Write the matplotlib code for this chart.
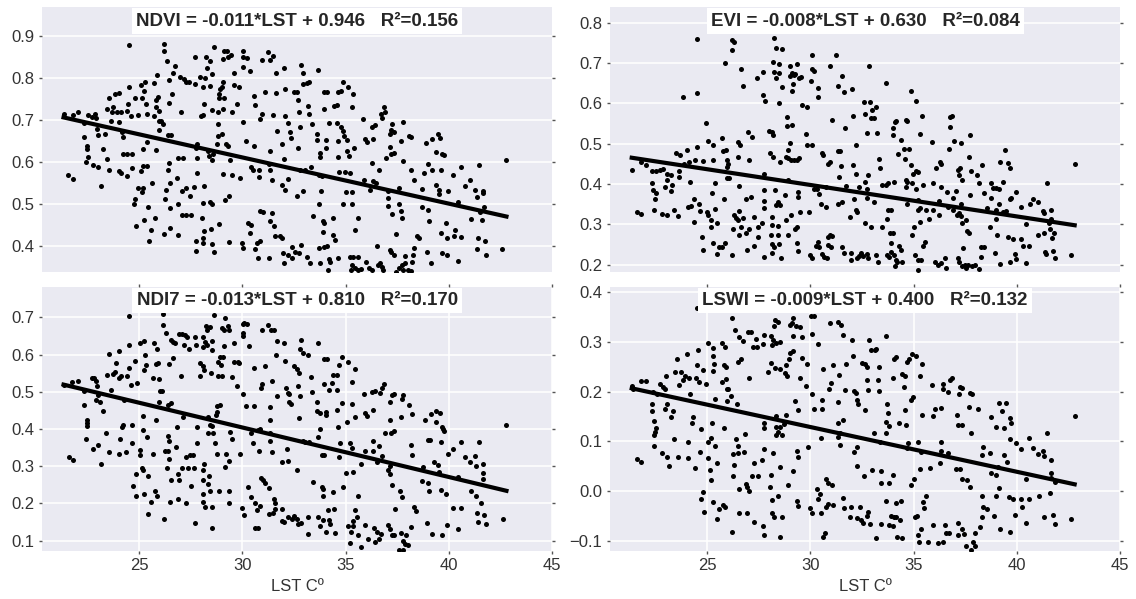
import numpy as np
import matplotlib
matplotlib.use('Agg')
import matplotlib.pyplot as plt

plt.rcParams['font.family'] = ['Liberation Sans', 'DejaVu Sans']

# (LST, index) points
ndvi_pts = [
    (21.34, .715), (21.79, .712), (22.03, .719), (21.58, .570), (21.79, .559),
    (22.34, .694), (22.55, .712), (22.71, .708), (22.87, .715), (22.92, .706),
    (22.35, .660), (22.50, .638), (22.47, .630), (22.52, .613), (22.42, .601),
    (22.79, .593), (23.03, .588), (23.16, .544), (22.95, .678), (23.00, .664),
    (23.35, .666), (23.24, .630), (23.44, .608), (23.56, .582), (23.44, .727),
    (23.56, .752), (23.73, .730), (23.84, .763), (24.03, .765), (23.71, .720),
    (23.92, .720), (24.11, .718), (24.05, .696), (23.65, .698), (24.16, .672),
    (24.24, .660), (24.03, .578), (24.11, .573), (24.52, .879), (24.52, .778),
    (24.45, .738), (24.61, .710), (24.81, .752), (25.08, .783), (24.94, .712),
    (24.24, .620), (24.43, .620), (24.64, .620), (24.40, .566), (24.64, .585),
    (24.73, .501), (24.81, .512), (24.86, .448), (24.97, .538), (25.18, .538),
    (25.13, .528), (25.08, .578), (25.21, .590), (25.26, .462), (25.29, .790),
    (25.26, .770), (25.34, .738), (25.37, .715), (25.21, .630), (25.40, .648),
    (25.39, .590), (25.45, .494), (25.58, .439), (25.48, .411), (25.64, .550),
    (25.72, .787), (25.85, .806), (25.81, .748), (25.90, .754), (25.71, .710),
    (25.97, .722), (25.98, .698), (25.81, .628), (25.77, .467), (25.97, .676),
    (26.19, .880), (26.19, .864), (26.34, .841), (26.14, .690), (26.45, .740),
    (26.47, .796), (26.63, .812), (26.74, .828), (26.58, .763), (26.42, .664),
    (26.55, .664), (26.47, .597), (26.39, .582), (26.50, .550), (26.29, .534),
    (26.26, .512), (26.52, .490), (26.52, .443), (26.21, .428), (26.82, .562),
    (26.87, .501), (26.87, .609), (26.90, .427), (26.98, .802), (27.03, .720),
    (27.19, .798), (27.26, .790), (27.42, .790), (27.14, .610), (27.06, .530),
    (27.26, .538), (27.47, .518), (27.06, .475), (27.27, .475), (27.52, .475),
    (27.71, .849), (27.71, .786), (27.79, .642), (27.81, .610), (27.66, .541),
    (27.79, .574), (27.74, .411), (27.74, .388), (27.95, .803), (28.24, .849),
    (28.27, .825), (28.44, .840), (28.19, .800), (28.11, .778), (28.44, .780),
    (28.14, .738), (28.00, .710), (28.11, .712), (28.63, .875), (28.55, .810),
    (28.52, .723), (28.35, .626), (28.52, .606), (28.40, .614), (28.60, .618),
    (28.16, .542), (28.08, .502), (28.44, .506), (28.55, .499), (28.06, .467),
    (28.16, .436), (28.11, .420), (28.47, .440), (28.11, .408), (28.55, .404),
    (28.63, .387), (28.76, .642), (28.84, .691), (28.81, .662), (29.00, .666),
    (28.89, .763), (28.89, .752), (28.84, .718), (29.13, .865), (29.27, .864),
    (29.08, .845), (29.32, .851), (29.45, .855), (29.05, .790), (29.00, .778),
    (29.13, .752), (29.05, .726), (28.92, .774), (29.21, .642), (29.32, .638),
    (29.40, .606), (29.05, .572), (29.50, .568), (29.16, .510), (29.35, .520),
    (28.89, .453), (29.37, .409), (29.61, .813), (29.61, .784), (29.84, .779),
    (29.76, .738), (29.51, .720), (29.89, .562), (30.05, .695), (29.97, .408),
    (30.05, .865), (30.02, .849), (30.21, .848), (30.02, .827), (30.37, .817),
    (30.16, .650), (30.56, .638), (30.40, .589), (30.53, .582), (30.81, .582),
    (30.81, .564), (30.29, .455), (30.42, .451), (30.37, .431), (30.05, .396),
    (30.69, .407), (30.85, .412), (30.61, .393), (30.58, .758), (30.61, .736),
    (30.97, .714), (30.85, .702), (30.77, .371), (30.85, .483), (30.98, .481),
    (30.97, .843), (31.23, .861), (31.34, .843), (31.50, .853), (31.10, .766),
    (31.47, .711), (31.34, .626), (31.31, .596), (31.34, .581), (31.45, .558),
    (31.42, .479), (31.35, .459), (31.53, .447), (31.58, .423), (31.90, .419),
    (31.82, .423), (31.31, .371), (31.63, .813), (31.63, .764), (31.66, .674),
    (31.93, .642), (32.02, .608), (31.93, .546), (32.06, .534), (31.95, .383),
    (32.02, .359), (32.03, .825), (32.06, .775), (32.06, .710), (32.23, .692),
    (32.31, .672), (32.35, .658), (32.19, .560), (32.23, .379), (32.39, .371),
    (32.42, .397), (32.63, .518), (32.50, .766), (32.63, .767), (32.71, .747),
    (32.74, .720), (32.79, .684), (32.68, .634), (32.79, .582), (32.95, .532),
    (32.74, .384), (32.84, .403), (32.55, .387), (32.84, .832), (32.92, .813),
    (32.95, .786), (33.11, .787), (33.24, .790), (33.03, .581), (33.15, .375),
    (33.27, .359), (33.19, .734), (33.24, .715), (33.35, .691), (33.32, .589),
    (33.44, .471), (33.60, .666), (33.63, .652), (33.76, .621), (33.76, .613),
    (33.68, .820), (33.97, .767), (34.08, .767), (33.97, .727), (33.73, .570),
    (33.84, .566), (33.81, .530), (33.73, .501), (33.89, .459), (33.97, .456),
    (33.92, .433), (33.73, .395), (33.97, .397), (34.08, .400), (33.76, .359),
    (34.13, .343), (34.19, .369), (34.24, .363), (34.05, .652), (34.05, .634),
    (34.21, .694), (34.44, .734), (34.60, .735), (34.56, .694), (34.64, .767),
    (34.77, .770), (34.89, .790), (35.13, .778), (35.37, .763), (35.32, .731),
    (34.64, .650), (34.61, .613), (34.76, .684), (34.89, .674), (34.92, .662),
    (35.08, .652), (35.05, .626), (35.18, .614), (34.69, .577), (34.97, .576),
    (35.21, .574), (34.37, .468), (34.40, .427), (34.48, .415), (34.64, .372),
    (34.89, .501), (35.02, .528), (35.32, .529), (35.32, .501), (35.40, .634),
    (35.61, .468), (35.45, .439), (35.21, .375), (35.37, .375), (35.58, .375),
    (35.29, .355), (35.45, .349), (35.26, .343), (35.58, .343), (35.85, .702),
    (35.93, .654), (36.06, .648), (35.90, .557), (36.18, .534), (36.26, .598),
    (36.34, .556), (36.26, .684), (36.42, .688), (36.31, .654), (35.74, .345),
    (35.97, .363), (36.15, .349), (36.26, .343), (36.50, .399), (36.55, .355),
    (36.66, .359), (36.74, .351), (36.82, .343), (36.63, .582), (36.47, .550),
    (36.71, .715), (36.74, .706), (36.85, .731), (36.90, .719), (36.94, .610),
    (37.03, .532), (37.06, .514), (37.06, .496), (37.15, .636), (37.19, .618),
    (37.35, .621), (37.15, .666), (37.19, .676), (37.27, .690), (37.35, .672),
    (37.19, .387), (37.35, .379), (37.26, .477), (37.42, .429), (37.15, .391),
    (37.58, .501), (37.60, .538), (37.68, .483), (37.74, .467), (37.68, .650),
    (37.76, .695), (37.76, .602), (37.42, .339), (37.58, .347), (37.71, .355),
    (37.87, .377), (37.87, .359), (38.00, .343), (37.79, .343), (38.08, .662),
    (38.19, .660), (38.19, .581), (38.32, .558), (38.32, .395), (38.27, .379),
    (38.44, .423), (38.56, .419), (38.16, .341), (38.22, .363), (38.71, .536),
    (38.68, .493), (38.81, .574), (38.97, .487), (39.03, .460), (38.89, .646),
    (38.97, .596), (38.92, .387), (39.16, .359), (39.19, .656), (39.19, .581),
    (39.37, .624), (39.40, .546), (39.48, .666), (39.56, .658), (39.52, .534),
    (39.53, .524), (39.61, .582), (39.60, .431), (39.68, .620), (39.77, .616),
    (39.68, .383), (39.89, .379), (39.85, .456), (39.93, .420), (39.97, .530),
    (40.21, .568), (40.24, .423), (40.42, .506), (40.58, .588), (40.58, .421),
    (40.42, .365), (40.29, .439), (40.77, .542), (41.02, .557), (41.05, .465),
    (41.26, .534), (41.34, .517), (41.39, .419), (41.34, .393), (41.47, .594),
    (41.50, .481), (41.61, .461), (41.66, .532), (41.66, .526), (41.71, .493),
    (41.74, .413), (41.82, .379), (42.58, .392), (42.79, .604), (25.13, .752),
    (24.40, .722), (26.06, .698), (25.82, .730), (27.74, .634),
]

evi_pts = [
    (21.35, .436), (21.59, .330), (21.80, .327), (21.80, .455), (22.03, .447),
    (22.35, .432), (22.53, .432), (22.72, .435), (22.88, .437), (23.04, .424),
    (22.32, .402), (22.36, .385), (22.51, .377), (22.48, .362), (22.43, .336),
    (22.80, .325), (22.96, .392), (23.04, .410), (23.25, .383), (23.28, .398),
    (23.07, .323), (23.41, .336), (23.57, .322), (23.48, .476), (23.69, .472),
    (23.64, .432), (23.65, .418), (23.25, .422), (23.85, .616), (23.88, .451),
    (24.04, .484), (24.12, .455), (24.06, .344), (24.20, .346), (24.17, .406),
    (24.38, .363), (24.41, .459), (24.53, .626), (24.53, .492), (24.49, .759),
    (24.62, .350), (24.65, .334), (24.74, .270), (24.38, .305), (24.82, .238),
    (24.82, .457), (24.95, .552), (25.03, .507), (24.98, .332), (25.03, .323),
    (25.19, .311), (25.17, .294), (25.22, .379), (25.30, .498), (25.27, .459),
    (25.38, .402), (25.38, .338), (25.46, .303), (25.27, .255), (25.46, .228),
    (25.59, .245), (25.74, .245), (25.86, .253), (25.83, .363), (25.74, .515),
    (25.78, .482), (25.91, .484), (25.86, .700), (25.95, .459), (25.98, .443),
    (25.95, .414), (26.07, .414), (26.03, .451), (26.19, .758), (26.32, .752),
    (26.22, .732), (26.62, .686), (26.75, .643), (26.19, .224), (26.24, .290),
    (26.32, .323), (26.40, .317), (26.48, .311), (26.54, .333), (26.48, .468),
    (26.51, .505), (26.59, .497), (26.56, .395), (26.56, .274), (26.64, .294),
    (26.75, .315), (26.88, .363), (26.88, .278), (26.91, .237), (26.96, .530),
    (27.04, .290), (27.15, .369), (27.19, .516), (27.04, .461), (27.28, .318),
    (27.40, .662), (27.48, .293), (27.45, .270), (27.27, .247), (27.75, .220),
    (27.69, .620), (27.80, .605), (27.72, .678), (27.77, .426), (27.77, .385),
    (27.77, .358), (27.77, .340), (27.64, .304), (28.01, .532), (28.12, .530),
    (28.17, .521), (28.04, .476), (28.17, .468), (28.17, .703), (28.25, .761),
    (28.32, .738), (28.25, .678), (28.32, .664), (28.49, .676), (28.61, .736),
    (28.48, .697), (28.49, .602), (28.61, .641), (28.53, .455), (28.27, .385),
    (28.12, .319), (28.12, .299), (28.09, .274), (28.32, .348), (28.41, .356),
    (28.52, .348), (28.45, .297), (28.15, .252), (28.25, .245), (28.15, .230),
    (28.57, .218), (28.49, .252), (28.45, .274), (28.77, .373), (28.85, .567),
    (28.85, .544), (29.09, .546), (28.90, .484), (28.82, .468), (28.93, .464),
    (29.06, .461), (29.01, .667), (29.09, .676), (29.14, .647), (29.09, .630),
    (29.01, .692), (29.20, .670), (29.28, .674), (29.33, .697), (29.46, .662),
    (29.57, .666), (29.01, .501), (29.22, .459), (29.33, .461), (29.46, .464),
    (28.93, .410), (28.82, .311), (29.04, .323), (29.25, .290), (29.36, .294),
    (28.90, .274), (29.33, .253), (29.38, .234), (29.41, .381), (29.41, .369),
    (29.52, .332), (29.78, .525), (29.85, .498), (30.06, .498), (29.61, .596),
    (29.85, .590), (30.06, .719), (30.06, .686), (30.19, .681), (30.35, .638),
    (30.38, .616), (30.03, .656), (29.95, .332), (29.98, .224), (30.09, .216),
    (30.17, .387), (30.30, .389), (30.41, .375), (30.54, .352), (30.78, .344),
    (30.27, .247), (30.43, .243), (30.38, .257), (30.57, .226), (30.67, .220),
    (30.82, .216), (30.86, .249), (30.99, .245), (30.86, .270), (30.95, .275),
    (31.07, .271), (30.57, .478), (30.62, .472), (30.95, .455), (30.86, .451),
    (30.75, .393), (30.95, .693), (31.07, .560), (31.23, .721), (31.32, .643),
    (31.32, .483), (31.40, .418), (31.35, .350), (31.51, .356), (31.48, .445),
    (31.54, .245), (31.64, .229), (31.51, .667), (31.64, .629), (31.43, .482),
    (31.67, .538), (31.75, .395), (31.91, .318), (31.95, .212), (31.96, .230),
    (32.04, .637), (32.07, .568), (32.20, .497), (32.07, .447), (32.20, .426),
    (32.36, .393), (32.20, .337), (32.27, .332), (32.12, .362), (32.27, .218),
    (32.36, .222), (32.43, .229), (32.53, .222), (32.59, .604), (32.64, .575),
    (32.72, .527), (32.67, .406), (32.72, .389), (32.75, .365), (32.80, .422),
    (32.64, .303), (32.72, .226), (32.80, .216), (32.85, .692), (32.88, .604),
    (32.93, .563), (33.01, .583), (33.09, .563), (33.20, .591), (33.25, .527),
    (32.96, .293), (33.07, .356), (33.20, .224), (33.28, .208), (33.36, .440),
    (33.33, .463), (33.45, .294), (33.49, .398), (33.65, .398), (33.74, .402),
    (33.65, .651), (33.69, .313), (33.74, .336), (33.90, .336), (33.69, .224),
    (33.82, .220), (33.93, .231), (34.06, .224), (34.14, .212), (34.09, .198),
    (33.85, .278), (34.01, .278), (33.93, .255), (34.01, .538), (33.98, .523),
    (34.09, .554), (34.06, .406), (34.14, .557), (34.25, .474), (34.20, .208),
    (34.41, .509), (34.46, .208), (34.30, .247), (34.41, .238), (34.54, .486),
    (34.62, .558), (34.70, .557), (34.57, .462), (34.62, .410), (34.62, .393),
    (34.70, .352), (34.77, .486), (34.86, .447), (34.86, .630), (34.90, .274),
    (35.03, .294), (35.09, .224), (34.70, .406), (34.90, .403), (34.98, .426),
    (35.11, .432), (35.22, .431), (35.14, .389), (35.14, .606), (35.30, .525),
    (35.41, .568), (35.22, .361), (35.22, .337), (35.30, .340), (35.30, .307),
    (35.46, .247), (35.54, .257), (35.22, .212), (35.38, .212), (35.22, .187),
    (35.46, .398), (35.59, .336), (35.74, .313), (35.91, .505), (35.95, .402),
    (35.95, .336), (36.07, .439), (36.03, .208), (36.19, .200), (36.27, .455),
    (36.35, .450), (36.32, .393), (36.24, .358), (36.24, .323), (36.35, .204),
    (36.51, .216), (36.56, .191), (36.62, .381), (36.67, .344), (36.70, .486),
    (36.75, .542), (36.75, .567), (36.86, .568), (36.91, .365), (36.91, .336),
    (36.96, .507), (37.07, .384), (37.12, .323), (37.20, .329), (37.15, .435),
    (37.20, .422), (37.24, .440), (37.28, .501), (37.32, .410), (37.28, .350),
    (37.20, .208), (37.36, .198), (37.15, .216), (37.40, .241), (37.48, .200),
    (37.56, .191), (37.64, .200), (37.28, .321), (37.36, .303), (37.56, .311),
    (37.59, .284), (37.69, .278), (37.72, .521), (37.69, .468), (37.75, .373),
    (37.80, .432), (37.85, .198), (37.96, .200), (38.09, .422), (38.17, .402),
    (38.25, .220), (38.25, .245), (38.40, .245), (38.33, .447), (38.40, .377),
    (38.17, .190), (38.57, .342), (38.69, .294), (38.77, .366), (38.77, .402),
    (38.85, .391), (38.98, .391), (39.01, .337), (39.01, .313), (38.93, .229),
    (39.04, .274), (39.14, .389), (39.14, .352), (39.17, .455), (39.17, .202),
    (39.33, .406), (39.33, .332), (39.45, .484), (39.49, .333), (39.57, .453),
    (39.65, .441), (39.65, .363), (39.57, .270), (39.65, .206), (39.74, .365),
    (39.82, .264), (39.95, .381), (39.90, .226), (39.95, .214), (40.19, .344),
    (40.22, .264), (40.30, .247), (40.43, .300), (40.43, .204), (40.62, .352),
    (40.59, .247), (40.78, .362), (41.03, .356), (41.03, .274), (41.27, .334),
    (41.32, .329), (41.32, .278), (41.35, .233), (41.40, .227), (41.48, .402),
    (41.56, .303), (41.62, .290), (41.67, .336), (41.67, .313), (41.72, .267),
    (41.80, .280), (41.75, .234), (41.83, .216), (42.61, .224), (42.80, .451),
]

ndi7_pts = [
    (21.34, .519), (21.77, .527), (22.02, .528), (21.61, .325), (21.79, .318),
    (22.34, .502), (22.35, .464), (22.50, .425), (22.47, .415), (22.50, .407),
    (22.44, .372), (22.71, .537), (22.84, .536), (22.92, .528), (22.95, .515),
    (23.00, .491), (22.92, .477), (23.11, .473), (22.79, .347), (23.03, .358),
    (23.16, .305), (23.27, .449), (23.40, .390), (23.44, .545), (23.55, .601),
    (23.63, .506), (23.56, .337), (23.73, .547), (23.84, .552), (23.87, .576),
    (24.03, .610), (24.05, .536), (24.11, .542), (24.08, .372), (24.16, .404),
    (24.24, .410), (24.27, .477), (24.05, .332), (24.37, .337), (24.40, .542),
    (24.52, .565), (24.52, .625), (24.53, .703), (24.61, .518), (24.64, .410),
    (24.64, .361), (24.81, .583), (24.89, .524), (24.69, .247), (24.85, .219),
    (24.85, .278), (25.05, .631), (25.26, .637), (25.21, .434), (25.18, .397),
    (25.02, .343), (25.05, .329), (25.13, .296), (25.18, .291), (25.29, .598),
    (25.34, .573), (25.26, .558), (25.37, .379), (25.45, .273), (25.45, .171),
    (25.26, .226), (25.56, .204), (25.66, .332), (25.72, .632), (25.82, .574),
    (25.90, .576), (25.85, .616), (25.77, .234), (25.85, .220), (25.69, .536),
    (25.94, .533), (25.82, .425), (26.02, .502), (26.10, .502), (25.97, .473),
    (26.18, .710), (26.18, .679), (26.31, .658), (26.55, .640), (26.66, .634),
    (26.74, .630), (26.63, .591), (26.45, .574), (26.39, .464), (26.55, .470),
    (26.26, .340), (26.39, .340), (26.47, .319), (26.34, .294), (26.47, .368),
    (26.42, .380), (26.55, .262), (26.50, .204), (26.21, .157), (26.77, .352),
    (26.82, .404), (26.87, .278), (26.90, .211), (26.95, .264), (27.03, .542),
    (26.95, .656), (27.06, .656), (27.22, .652), (27.19, .625), (27.34, .648),
    (27.42, .616), (27.14, .433), (27.09, .294), (27.26, .325), (27.35, .294),
    (27.26, .202), (27.47, .330), (27.52, .246), (27.60, .330), (27.66, .294),
    (27.71, .648), (27.76, .625), (27.71, .148), (27.79, .361), (27.81, .406),
    (27.95, .578), (27.95, .542), (28.11, .262), (28.08, .291), (28.14, .307),
    (28.11, .226), (28.19, .191), (28.11, .204), (28.08, .648), (28.19, .634),
    (28.11, .621), (28.27, .665), (28.24, .676), (28.43, .674), (28.31, .625),
    (28.52, .637), (28.55, .612), (28.48, .551), (28.63, .706), (28.16, .558),
    (28.08, .569), (28.35, .431), (28.43, .412), (28.52, .407), (28.56, .388),
    (28.35, .388), (28.72, .437), (28.76, .446), (28.79, .461), (28.92, .464),
    (28.43, .234), (28.52, .191), (28.52, .135), (28.40, .273), (28.35, .252),
    (28.68, .363), (28.79, .334), (28.89, .234), (29.00, .543), (28.81, .542),
    (28.84, .580), (28.95, .571), (28.92, .594), (29.08, .594), (29.13, .622),
    (29.00, .672), (29.11, .667), (29.16, .697), (29.29, .677), (29.37, .666),
    (29.48, .540), (29.16, .298), (29.19, .334), (29.35, .313), (29.40, .392),
    (29.51, .374), (29.37, .234), (29.35, .201), (29.61, .631), (29.61, .580),
    (29.77, .580), (29.84, .576), (29.76, .516), (29.89, .334), (30.02, .683),
    (30.10, .685), (30.21, .683), (30.02, .657), (30.05, .649), (30.34, .622),
    (30.05, .493), (30.16, .462), (30.56, .462), (30.40, .388), (30.50, .361),
    (30.81, .341), (30.29, .243), (30.40, .216), (29.97, .188), (30.08, .168),
    (30.61, .200), (30.69, .183), (30.85, .193), (30.61, .135), (30.74, .135),
    (30.56, .565), (30.97, .522), (30.89, .509), (30.85, .399), (30.77, .397),
    (30.94, .667), (30.90, .269), (31.02, .262), (31.10, .255), (31.31, .242),
    (31.31, .171), (31.47, .173), (31.53, .213), (31.58, .201), (31.26, .679),
    (31.39, .667), (31.53, .666), (31.10, .569), (31.42, .528), (31.34, .458),
    (31.34, .424), (31.34, .389), (31.34, .368), (31.42, .337), (31.66, .489),
    (31.63, .598), (31.66, .637), (31.56, .186), (31.90, .186), (31.93, .153),
    (32.03, .150), (31.93, .312), (32.03, .630), (32.06, .583), (32.11, .511),
    (32.19, .497), (32.27, .493), (32.27, .473), (32.35, .468), (32.14, .347),
    (32.23, .313), (32.23, .164), (32.42, .157), (32.52, .166), (32.63, .157),
    (32.71, .144), (32.84, .148), (32.50, .569), (32.63, .562), (32.74, .549),
    (32.71, .515), (32.79, .489), (32.63, .289), (32.76, .430), (32.79, .616),
    (32.84, .640), (32.95, .605), (33.16, .598), (33.19, .119), (33.19, .164),
    (32.92, .367), (33.03, .365), (33.24, .365), (33.39, .500), (33.32, .540),
    (33.44, .258), (33.68, .632), (33.65, .379), (33.76, .401), (33.60, .473),
    (33.60, .449), (33.76, .442), (33.84, .329), (33.97, .329), (33.84, .244),
    (33.92, .240), (33.89, .219), (33.97, .522), (34.05, .446), (34.05, .437),
    (33.97, .587), (34.08, .587), (33.65, .164), (33.76, .139), (33.92, .155),
    (34.05, .122), (34.19, .155), (34.24, .144), (34.13, .183), (34.21, .504),
    (34.32, .524), (34.40, .545), (34.56, .545), (34.40, .231), (34.45, .186),
    (34.48, .121), (34.56, .504), (34.60, .452), (34.64, .406), (34.69, .571),
    (34.85, .470), (34.72, .363), (34.69, .325), (34.85, .592), (34.89, .243),
    (35.02, .282), (35.05, .419), (35.13, .580), (35.29, .468), (35.32, .527),
    (35.34, .285), (35.45, .560), (35.13, .139), (35.37, .153), (35.37, .139),
    (35.26, .123), (35.21, .095), (35.45, .433), (35.21, .361), (35.29, .349),
    (35.58, .219), (35.45, .183), (35.53, .164), (35.61, .115), (35.74, .083),
    (35.90, .495), (35.93, .442), (36.02, .434), (35.93, .340), (35.77, .307),
    (35.93, .141), (36.10, .104), (36.31, .368), (36.31, .341), (36.34, .452),
    (36.29, .500), (36.42, .503), (36.50, .312), (36.61, .354), (36.66, .497),
    (36.74, .511), (36.85, .520), (36.39, .135), (36.50, .123), (36.63, .104),
    (36.71, .117), (36.42, .097), (36.74, .327), (36.90, .390), (37.06, .291),
    (37.15, .300), (37.15, .278), (37.06, .141), (37.15, .130), (37.23, .114),
    (37.35, .114), (37.15, .473), (37.23, .491), (37.35, .493), (37.19, .390),
    (37.35, .395), (37.15, .425), (37.23, .249), (37.39, .184), (37.63, .234),
    (37.71, .216), (37.68, .433), (37.71, .480), (37.79, .491), (37.68, .121),
    (37.79, .099), (37.87, .092), (38.00, .088), (37.92, .114), (37.79, .074),
    (37.60, .074), (38.08, .464), (38.24, .441), (38.19, .356), (38.24, .329),
    (38.19, .137), (38.32, .191), (38.40, .179), (38.68, .260), (38.73, .298),
    (38.84, .425), (38.97, .370), (39.00, .255), (39.03, .233), (38.92, .148),
    (39.16, .440), (39.08, .370), (39.19, .119), (39.29, .310), (39.37, .419),
    (39.40, .449), (39.48, .304), (39.53, .285), (39.56, .444), (39.61, .237),
    (39.65, .406), (39.73, .399), (39.77, .394), (39.85, .224), (39.61, .365),
    (39.65, .114), (39.89, .141), (39.97, .334), (40.18, .346), (40.21, .189),
    (40.42, .271), (40.42, .130), (40.58, .365), (40.58, .188), (40.77, .325),
    (41.02, .312), (41.05, .234), (41.26, .327), (41.31, .301), (41.31, .219),
    (41.34, .175), (41.39, .150), (41.47, .365), (41.58, .200), (41.66, .307),
    (41.66, .283), (41.66, .265), (41.71, .170), (41.82, .146), (42.60, .159),
    (42.79, .412),
]

lswi_pts = [
    (21.35, .212), (21.40, .206), (21.80, .222), (22.03, .222), (21.62, .065),
    (21.80, .059), (22.35, .175), (22.32, .160), (22.43, .140), (22.51, .126),
    (22.48, .118), (22.43, .113), (22.43, .091), (22.72, .215), (22.88, .210),
    (22.96, .206), (22.36, .200), (22.56, .196), (23.01, .231), (23.04, .176),
    (22.96, .166), (23.25, .149), (23.33, .160), (22.80, .076), (23.04, .069),
    (23.17, .051), (23.41, .104), (23.45, .240), (23.56, .266), (23.65, .213),
    (23.57, .069), (23.74, .240), (23.85, .224), (24.01, .276), (23.93, .231),
    (24.14, .228), (24.06, .099), (24.17, .196), (24.25, .136), (24.30, .148),
    (24.06, .067), (24.41, .046), (24.46, .228), (24.49, .253), (24.54, .283),
    (24.53, .367), (24.62, .220), (24.69, .124), (24.65, .079), (24.82, .244),
    (24.95, .215), (24.70, -.016), (24.86, -.042), (24.78, -.002), (25.06, .298),
    (25.27, .288), (25.30, .271), (25.35, .256), (25.27, .241), (25.22, .137),
    (25.19, .107), (25.06, .098), (25.03, .066), (25.14, .043), (25.19, .023),
    (25.38, .091), (25.38, .186), (25.46, .056), (25.30, -.021), (25.46, -.056),
    (25.59, -.036), (25.70, .298), (25.86, .290), (25.83, .254), (25.91, .250),
    (25.91, .226), (25.78, -.028), (25.86, -.031), (25.70, .220), (25.83, .126),
    (25.95, .206), (26.03, .205), (25.98, .182), (26.14, .191), (26.19, .347),
    (26.35, .323), (26.56, .310), (26.72, .302), (26.64, .266), (26.48, .260),
    (26.43, .175), (26.40, .104), (26.48, .091), (26.51, .076), (26.27, .075),
    (26.30, .053), (26.24, .031), (26.56, .004), (26.54, -.044), (26.19, -.081),
    (26.83, .115), (26.78, .078), (26.88, .015), (26.91, -.043), (26.95, .009),
    (27.04, .001), (27.04, .228), (26.96, .320), (27.15, .320), (27.20, .290),
    (27.35, .306), (27.40, .290), (27.16, .031), (27.27, .056), (27.28, -.061),
    (27.45, .031), (27.67, .063), (27.75, .313), (27.72, .296), (27.72, -.070),
    (27.77, -.088), (27.77, .084), (27.77, .137), (27.77, .127), (27.96, .240),
    (28.09, .258), (28.07, .009), (28.09, .033), (28.15, -.018), (28.12, -.043),
    (28.20, .076), (28.24, -.051), (28.09, .311), (28.20, .304), (28.12, .293),
    (28.28, .343), (28.25, .331), (28.45, .340), (28.32, .298), (28.53, .300),
    (28.28, .248), (28.53, .246), (28.36, .128), (28.45, .119), (28.53, .129),
    (28.36, .113), (28.61, .113), (28.32, .151), (28.80, .153), (28.74, .135),
    (28.53, .049), (28.45, -.010), (28.61, -.052), (28.53, -.092), (28.90, .013),
    (28.77, .238), (28.85, .231), (28.82, .253), (28.96, .266), (29.01, .278),
    (29.14, .281), (29.14, .311), (29.01, .333), (29.12, .338), (29.17, .347),
    (29.30, .331), (29.49, .330), (29.49, .228), (29.25, .182), (29.41, .162),
    (29.36, .081), (29.41, .069), (29.17, .041), (29.33, -.019), (29.41, -.030),
    (29.62, .310), (29.62, .268), (29.82, .256), (29.78, .211), (29.90, .088),
    (30.06, .316), (30.03, .351), (30.17, .351), (30.09, .196), (30.17, .164),
    (30.38, .296), (29.98, -.033), (30.09, -.043), (30.30, .004), (30.38, -.016),
    (30.46, -.006), (30.57, .183), (30.57, .164), (30.54, .106), (30.62, .246),
    (30.70, -.083), (30.62, -.091), (30.75, -.031), (30.86, -.026), (30.54, -.043),
    (30.78, .024), (30.86, .017), (30.91, .206), (30.98, .218), (31.03, .013),
    (31.11, .253), (30.95, .338), (31.11, -.028), (31.32, .340), (31.48, .333),
    (31.40, .233), (31.35, .180), (31.35, .136), (31.43, .117), (31.32, .109),
    (31.43, .093), (31.59, .143), (31.59, -.014), (31.64, -.034), (31.59, .313),
    (31.70, .203), (31.75, .256), (31.91, -.052), (31.95, -.031), (32.04, .303),
    (32.07, .271), (32.11, .201), (32.20, .198), (32.24, -.054), (32.27, .183),
    (32.32, .175), (32.24, .089), (32.12, .079), (32.27, .051), (32.43, -.058),
    (32.53, -.064), (32.40, -.031), (32.51, .258), (32.64, .256), (32.75, .250),
    (32.72, .224), (32.80, .203), (32.64, .163), (32.80, -.041), (32.72, -.050),
    (32.88, -.066), (32.61, .031), (32.85, .303), (32.96, .283), (33.12, .283),
    (33.20, .286), (33.01, .043), (33.09, .116), (33.17, -.094), (33.28, .223),
    (33.33, .202), (33.33, .250), (33.36, .099), (33.41, .041), (33.41, .016),
    (33.41, -.066), (33.65, .311), (33.64, .116), (33.65, -.020), (33.69, .176),
    (33.65, .138), (33.81, .131), (33.77, .156), (33.82, .016), (33.98, .228),
    (34.06, .266), (34.14, .270), (34.01, .033), (33.90, -.049), (33.82, -.068),
    (33.98, -.070), (34.04, -.051), (34.17, -.051), (34.20, -.092), (34.33, -.058),
    (34.46, -.093), (34.14, -.024), (34.38, -.020), (34.30, .136), (34.46, .235),
    (34.57, .231), (34.54, .210), (34.57, .163), (34.62, .133), (34.70, .260),
    (34.78, .266), (34.90, .276), (34.86, .183), (34.95, .190), (34.70, .086),
    (34.74, .096), (34.86, .013), (35.03, .024), (35.09, -.051), (35.17, -.050),
    (35.14, .271), (35.22, .099), (35.33, .231), (35.38, .079), (35.41, .255),
    (35.30, .044), (35.43, .153), (35.22, -.088), (35.27, -.101), (35.38, -.076),
    (35.46, -.021), (35.59, -.010), (35.51, -.034), (35.71, -.101), (35.78, .046),
    (35.90, .214), (35.95, .150), (36.03, .166), (35.95, -.068), (36.19, -.103),
    (36.32, .099), (36.32, .081), (36.35, .168), (36.27, .056), (36.40, .206),
    (36.43, .216), (36.51, -.068), (36.43, -.101), (36.59, -.083), (36.67, .076),
    (36.67, .200), (36.75, .224), (36.86, .228), (36.72, -.084), (37.07, .044),
    (37.12, .153), (37.15, .133), (37.36, .133), (37.15, -.088), (37.15, -.064),
    (37.24, .044), (37.20, .196), (37.27, .210), (37.36, .208), (37.32, .024),
    (37.36, -.076), (37.43, -.086), (37.59, .023), (37.72, .009), (37.69, .170),
    (37.72, .198), (37.85, .196), (37.77, .117), (37.56, -.110), (37.80, -.118),
    (37.88, -.101), (37.96, -.110), (37.96, -.083), (38.12, .166), (38.24, -.071),
    (38.33, -.052), (38.33, -.009), (38.37, -.031), (38.37, .089), (38.33, .073),
    (38.57, -.036), (38.77, .149), (38.74, .036), (38.72, .076), (38.90, -.050),
    (39.01, .128), (39.01, .033), (39.01, -.009), (39.09, .049), (39.12, .007),
    (39.14, .178), (39.20, -.076), (39.30, .160), (39.38, .073), (39.38, .127),
    (39.49, .178), (39.54, .058), (39.62, -.011), (39.65, .146), (39.65, .104),
    (39.74, .136), (39.81, -.016), (39.90, -.048), (39.65, -.081), (39.95, .096),
    (40.19, .085), (40.27, -.031), (40.19, -.016), (40.43, -.064), (40.43, .024),
    (40.59, .106), (40.59, -.016), (40.78, .087), (41.03, .074), (41.06, -.009),
    (41.27, .081), (41.32, .071), (41.32, -.051), (41.48, .116), (41.59, -.004),
    (41.67, .063), (41.67, .036), (41.67, .026), (41.75, -.048), (41.83, -.066),
    (41.83, .019), (42.61, -.056), (42.80, .151),
]

# equation labels and the fitted lines as drawn
labels = ['NDVI = -0.011*LST + 0.946   R\u00b2=0.156',
          'EVI = -0.008*LST + 0.630   R\u00b2=0.084',
          'NDI7 = -0.013*LST + 0.810   R\u00b2=0.170',
          'LSWI = -0.009*LST + 0.400   R\u00b2=0.132']
slopes = [-0.0110, -0.0078, -0.0133, -0.00897]
intercepts = [0.941, 0.632, 0.803, 0.398]
ylims = [(0.339, 0.969), (0.183, 0.839), (0.073, 0.782), (-0.119, 0.41)]
yticks = [[0.4, 0.5, 0.6, 0.7, 0.8, 0.9],
          [0.2, 0.3, 0.4, 0.5, 0.6, 0.7, 0.8],
          [0.1, 0.2, 0.3, 0.4, 0.5, 0.6, 0.7],
          [-0.1, 0.0, 0.1, 0.2, 0.3, 0.4]]
xticks = [25, 30, 35, 40, 45]

fig = plt.figure(figsize=(11.36, 5.99), dpi=100)
boxes = [[0.037, 0.5464, 0.449, 0.4419],
         [0.537, 0.5464, 0.449, 0.4419],
         [0.037, 0.0806, 0.449, 0.4407],
         [0.537, 0.0806, 0.449, 0.4407]]

for i, pts in enumerate([ndvi_pts, evi_pts, ndi7_pts, lswi_pts]):
    ax = fig.add_axes(boxes[i])
    ax.set_facecolor('#EAEAF2')
    for s in ax.spines.values():
        s.set_visible(False)
    ax.set_axisbelow(True)
    ax.grid(True, color='white', lw=1.1)

    x, y = np.array(pts).T
    ax.scatter(x, y, s=13, c='black', linewidths=0, zorder=3)
    xl = np.linspace(x.min(), x.max(), 50)
    ax.plot(xl, slopes[i] * xl + intercepts[i], color='black', lw=3, zorder=4)

    ax.set_xlim(20.3, 45)
    ax.set_ylim(*ylims[i])
    ax.set_yticks(yticks[i])
    if i < 2:
        ax.set_xticks([])
    else:
        ax.set_xticks(xticks)
        ax.set_xlabel('LST C\u00ba', fontsize=12, color='#333333', labelpad=4)
    ax.tick_params(which='both', direction='out', length=2, width=1, colors='#555555',
                   labelcolor='#333333', labelsize=12, right=True, top=(i >= 2))

    ax.text(0.5, 0.947, labels[i], transform=ax.transAxes, ha='center', va='center',
            fontsize=13.5, fontweight='bold', color='#262626', zorder=5,
            bbox=dict(facecolor='white', edgecolor='none', pad=3))

plt.savefig('out.png', dpi=100)
